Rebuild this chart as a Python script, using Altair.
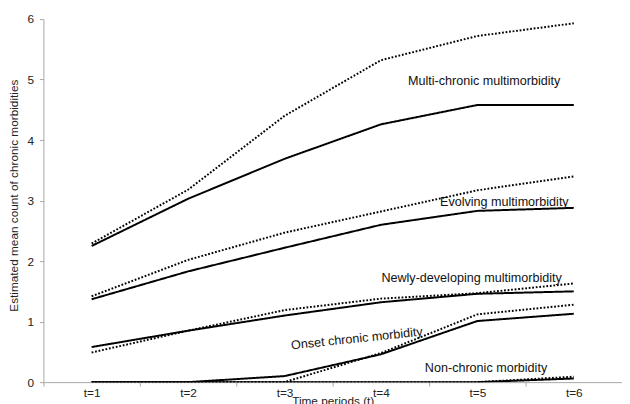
import altair as alt
import pandas as pd

periods = [1, 2, 3, 4, 5, 6]

multi_solid = [2.25, 3.03, 3.69, 4.26, 4.58, 4.58]
multi_dotted = [2.29, 3.18, 4.40, 5.32, 5.72, 5.93]
evolving_solid = [1.37, 1.83, 2.22, 2.60, 2.83, 2.88]
evolving_dotted = [1.42, 2.02, 2.47, 2.82, 3.17, 3.40]
newly_solid = [0.58, 0.85, 1.10, 1.32, 1.46, 1.50]
newly_dotted = [0.49, 0.85, 1.19, 1.38, 1.47, 1.63]
onset_solid = [0.0, 0.0, 0.10, 0.46, 1.01, 1.13]
onset_dotted = [0.0, 0.0, 0.0, 0.48, 1.12, 1.28]
nonchronic_solid = [0.0, 0.0, 0.0, 0.0, 0.0, 0.06]
nonchronic_dotted = [0.0, 0.0, 0.0, 0.0, 0.0, 0.09]

series = {
    ("Multi-chronic multimorbidity", "solid"): multi_solid,
    ("Multi-chronic multimorbidity", "dotted"): multi_dotted,
    ("Evolving multimorbidity", "solid"): evolving_solid,
    ("Evolving multimorbidity", "dotted"): evolving_dotted,
    ("Newly-developing multimorbidity", "solid"): newly_solid,
    ("Newly-developing multimorbidity", "dotted"): newly_dotted,
    ("Onset chronic morbidity", "solid"): onset_solid,
    ("Onset chronic morbidity", "dotted"): onset_dotted,
    ("Non-chronic morbidity", "solid"): nonchronic_solid,
    ("Non-chronic morbidity", "dotted"): nonchronic_dotted,
}

label_text = ["Multi-chronic multimorbidity", "Evolving multimorbidity",
              "Newly-developing multimorbidity", "Non-chronic morbidity"]
label_t = [5.07, 5.28, 4.94, 5.09]
label_v = [4.98, 2.97, 1.72, 0.24]

onset_label = ["Onset chronic morbidity"]
onset_t = [3.75]
onset_v = [0.72]

rows = []
for (grp, kind), vals in series.items():
    for t, v in zip(periods, vals):
        rows.append({"t": t, "value": v, "group": grp, "kind": kind,
                     "sid": grp + "|" + kind})
df = pd.DataFrame(rows)

labels_df = pd.DataFrame({"text": label_text, "t": label_t, "value": label_v})
onset_df = pd.DataFrame({"text": onset_label, "t": onset_t, "value": onset_v})

FONT = "Liberation Sans, Arial, sans-serif"

x_scale = alt.Scale(domain=[0.5, 6.5], nice=False, zero=False)
y_scale = alt.Scale(domain=[0, 6], nice=False)

x_axis = alt.Axis(
    values=[0.5, 1, 1.5, 2, 2.5, 3, 3.5, 4, 4.5, 5, 5.5, 6, 6.5],
    labelExpr="datum.value % 1 === 0 ? 't=' + datum.value : ''",
    tickOpacity={"condition": {"test": "datum.value % 1 === 0", "value": 0}, "value": 1},
    labelOverlap=False,
    labelFlush=False,
    grid=False,
    tickSize=4,
    labelPadding=2,
    title="Time periods (t)",
    titleY=14,
    titleBaseline="top",
)
y_axis = alt.Axis(
    values=[0, 1, 2, 3, 4, 5, 6],
    format="d",
    grid=False,
    tickSize=4,
    labelPadding=6,
    title="Estimated mean count of chronic morbidities",
    titleX=-30,
    titleY=179,
    titleAlign="center",
    titleBaseline="middle",
    titleAngle=270,
)

lines = alt.Chart(df).mark_line(color="black", strokeWidth=2, clip=True).encode(
    x=alt.X("t:Q", scale=x_scale, axis=x_axis),
    y=alt.Y("value:Q", scale=y_scale, axis=y_axis),
    detail="sid:N",
    strokeDash=alt.StrokeDash(
        "kind:N",
        scale=alt.Scale(domain=["solid", "dotted"], range=[[1, 0], [1.8, 1.8]]),
        legend=None,
    ),
)

texts = alt.Chart(labels_df).mark_text(
    font=FONT, fontSize=12.8, color="#111", align="center", baseline="middle"
).encode(x="t:Q", y="value:Q", text="text:N")

onset_text = alt.Chart(onset_df).mark_text(
    font=FONT, fontSize=12.8, color="#111", align="center", baseline="middle", angle=354
).encode(x="t:Q", y="value:Q", text="text:N")

chart = alt.layer(lines, texts, onset_text).properties(
    width=588,
    height=369,
    autosize=alt.AutoSizeParams(type="none"),
    padding={"left": 36, "top": 8, "right": 0, "bottom": 20},
).configure_view(stroke=None).configure_axis(
    domainColor="#a6a6a6",
    tickColor="#a6a6a6",
    labelColor="#222222",
    labelFont=FONT,
    labelFontSize=12,
    titleFont=FONT,
    titleFontSize=12,
    titleFontWeight="normal",
    titleColor="#222222",
)

chart.save("out.html", embed_options={"renderer": "svg", "actions": False})
